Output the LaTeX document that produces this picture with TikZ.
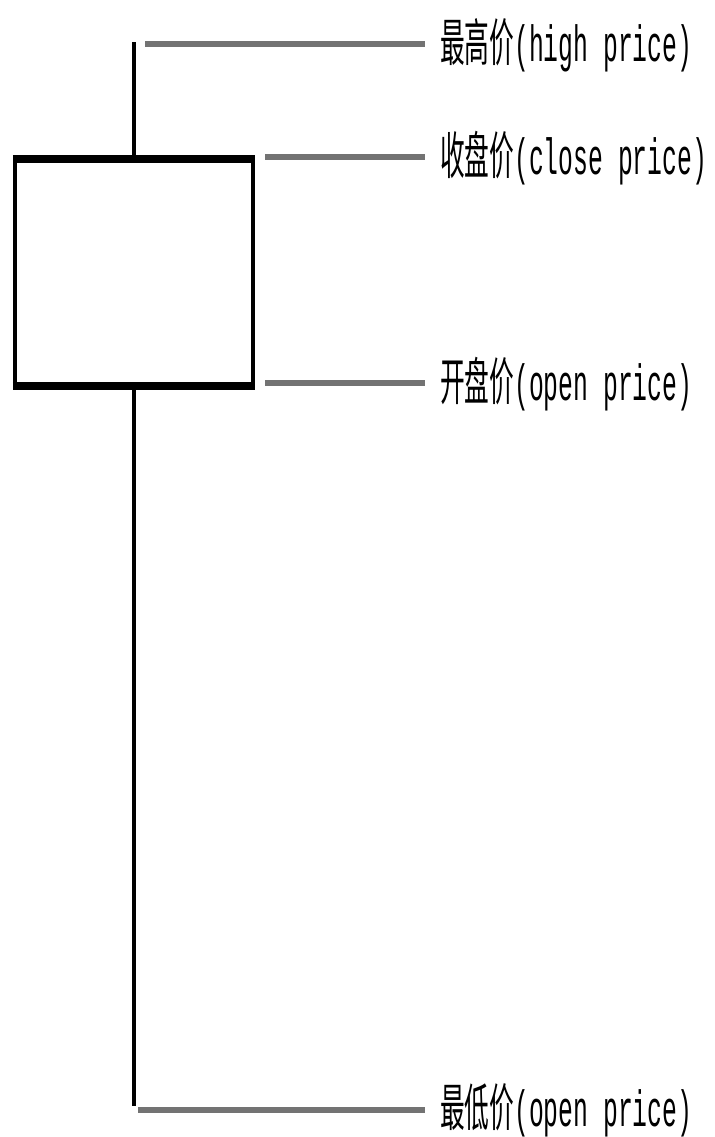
\documentclass[tikz,border=0pt]{standalone}
\usepackage{fontspec}
\setmonofont{Liberation Mono}
\newfontfamily\cjk{Noto Sans CJK SC}
\usepackage{tikz}

\begin{document}
\begin{tikzpicture}[
    rotulo/.style={anchor=west, inner sep=0pt, xscale=0.485,
        font=\fontsize{29}{32}\selectfont\ttfamily},
    guia/.style={line width=3.4pt, color=gray!90!black},
    pavio/.style={line width=2.2pt, black}]
\useasboundingbox (0,0) rectangle (14.28,-22.74);
% Corpo do candle
\node[draw, line width=2.3pt, minimum width=4.76cm, minimum height=4.46cm,
      inner sep=0pt] (C) at (2.68,-5.45) {};
\draw[line width=4.8pt] (C.north west) -- (C.north east);
\draw[line width=4.8pt] (C.south west) -- (C.south east);
% Sombras
\coordinate (H) at (2.68,-0.84);
\coordinate (L) at (2.68,-22.12);
\draw[pavio] (C.north) -- (H);
\draw[pavio] (C.south) -- (L);
% Rotulos
\node[rotulo] (tH) at (8.8,-0.9) {{\cjk 最高价}(high price)};
\node[rotulo] (tC) at (8.8,-3.16) {{\cjk 收盘价}(close price)};
\node[rotulo] (tO) at (8.8,-7.68) {{\cjk 开盘价}(open price)};
\node[rotulo] (tL) at (8.8,-22.2) {{\cjk 最低价}(open price)};
% Linhas de referencia
\coordinate (gH) at (2.9,-0.88);
\coordinate (gC) at (5.3,-3.14);
\coordinate (gO) at (5.3,-7.66);
\coordinate (gL) at (2.76,-22.2);
\draw[guia] (gH) -- ([xshift=-0.3cm]gH -| tH.west);
\draw[guia] (gC) -- ([xshift=-0.3cm]gC -| tC.west);
\draw[guia] (gO) -- ([xshift=-0.3cm]gO -| tO.west);
\draw[guia] (gL) -- ([xshift=-0.3cm]gL -| tL.west);
\end{tikzpicture}
\end{document}
